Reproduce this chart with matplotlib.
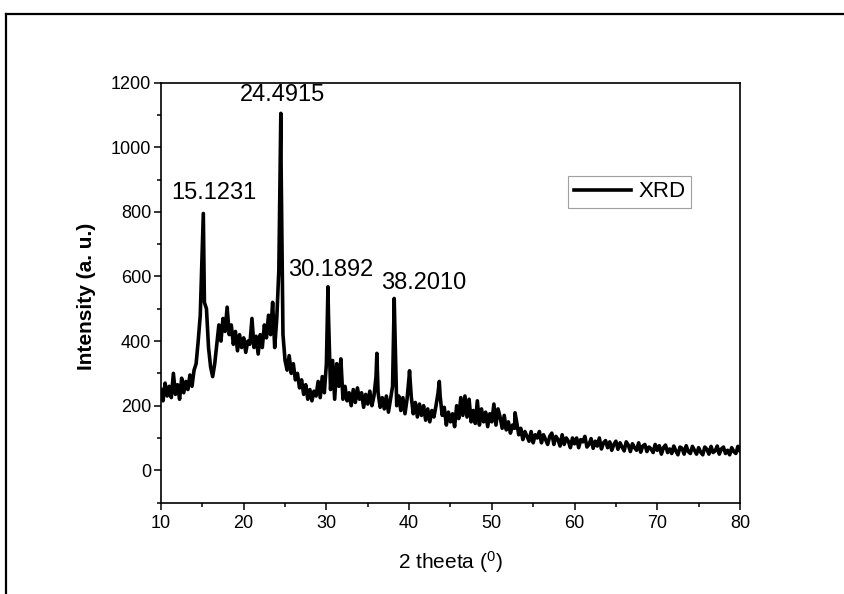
import numpy as np
import matplotlib
matplotlib.use('Agg')
from matplotlib import pyplot as plt
from matplotlib.lines import Line2D
from matplotlib.ticker import MultipleLocator

plt.rcParams['font.family'] = ['Liberation Sans', 'DejaVu Sans']
plt.rcParams['mathtext.fontset'] = 'custom'
plt.rcParams['mathtext.rm'] = 'Liberation Sans'

# scan grid: 10-80 deg, step 0.25 (intensities)
theta_start, theta_step = 10.0, 0.25

counts_10_20 = [250, 215, 270, 230, 260, 225, 300, 235, 265, 220,
                285, 240, 275, 250, 295, 260, 310, 330, 400, 480,
                700, 520, 500, 380, 320, 290, 330, 390, 450, 400,
                470, 430, 505, 420, 450, 390, 430, 370, 420, 380]
counts_20_30 = [410, 365, 400, 390, 470, 380, 415, 360, 420, 380,
                450, 410, 480, 420, 520, 380, 470, 620, 1000, 420,
                340, 310, 355, 300, 330, 280, 300, 255, 280, 235,
                265, 220, 250, 215, 245, 230, 275, 225, 290, 240]
counts_30_40 = [330, 480, 250, 340, 220, 330, 260, 345, 220, 260,
                215, 240, 200, 250, 210, 255, 220, 240, 195, 235,
                205, 245, 200, 230, 290, 240, 195, 225, 190, 230,
                180, 220, 260, 470, 200, 230, 185, 225, 175, 220]
counts_40_50 = [290, 230, 175, 210, 165, 205, 170, 200, 155, 190,
                150, 185, 165, 200, 240, 230, 170, 195, 140, 180,
                150, 175, 135, 200, 160, 225, 170, 230, 165, 220,
                150, 185, 145, 215, 140, 190, 150, 180, 135, 175]
counts_50_60 = [150, 205, 140, 190, 165, 130, 170, 125, 150, 115,
                140, 130, 150, 110, 130, 95, 120, 105, 90, 120,
                85, 110, 100, 120, 85, 110, 95, 80, 105, 115,
                80, 105, 95, 75, 110, 80, 100, 90, 70, 100]
counts_60_70 = [82, 100, 70, 95, 88, 105, 72, 80, 98, 68,
                90, 75, 100, 66, 85, 92, 70, 88, 62, 80,
                90, 65, 85, 72, 60, 88, 78, 58, 82, 70,
                62, 85, 56, 75, 80, 58, 72, 66, 55, 80]
counts_70_80 = [62, 76, 50, 70, 78, 55, 66, 52, 75, 60,
                48, 72, 68, 50, 76, 58, 52, 74, 62, 50,
                70, 56, 48, 72, 65, 50, 74, 55, 60, 75,
                50, 66, 72, 52, 62, 48, 70, 58, 52, 74,
                60]

# sharp reflections (apex points)
peak_theta = [15.12, 24.49, 30.19, 36.10, 38.20, 40.05, 43.65, 52.80]
peak_int = [795, 1105, 568, 362, 532, 308, 275, 178]

# labelled peaks
label_text = ['15.1231', '24.4915', '30.1892', '38.2010']
label_x = [16.45, 24.7, 30.5, 41.8]
label_y = [857, 1162, 620, 580]

counts = (counts_10_20 + counts_20_30 + counts_30_40 + counts_40_50
          + counts_50_60 + counts_60_70 + counts_70_80)
grid = theta_start + theta_step * np.arange(len(counts))
tt = np.concatenate([grid, peak_theta])
ii = np.concatenate([counts, peak_int])
order = np.argsort(tt)
tt, ii = tt[order], ii[order]

fig = plt.figure(figsize=(8.45, 5.94), dpi=100)
ax = fig.add_axes([0.1905, 0.1539, 0.6852, 0.7069])

ax.plot(tt, ii, color='black', lw=2.6, label='XRD')

for t, x, y in zip(label_text, label_x, label_y):
    ax.text(x, y, t, fontsize=17, ha='center', va='center')

ax.set_xlim(10, 80)
ax.set_ylim(-100, 1200)
ax.xaxis.set_major_locator(MultipleLocator(10))
ax.xaxis.set_minor_locator(MultipleLocator(5))
ax.yaxis.set_major_locator(MultipleLocator(200))
ax.yaxis.set_minor_locator(MultipleLocator(100))
ax.tick_params(which='both', direction='out', width=1.1, labelsize=13)
ax.tick_params(which='major', length=5)
ax.tick_params(which='minor', length=3)
ax.tick_params(axis='y', pad=2)
ax.tick_params(axis='x', pad=4)
for s in ax.spines.values():
    s.set_linewidth(1.2)

ax.set_xlabel('2 theeta ($\\mathregular{^0}$)', fontsize=15)
ax.set_ylabel('Intensity (a. u.)', fontsize=15, fontweight='bold')
ax.xaxis.set_label_coords(0.5, -0.11)
ax.yaxis.set_label_coords(-0.112, 0.49)

leg = ax.legend(loc='upper left', bbox_to_anchor=(0.703, 0.778), fontsize=16,
                frameon=True, fancybox=False, handlelength=2.6,
                handletextpad=0.3, borderpad=0.25, borderaxespad=0)
leg.get_frame().set_edgecolor('#888888')
leg.get_frame().set_linewidth(0.8)

# outer border of the picture (top and left edges)
fig.add_artist(Line2D([6 / 845, 1], [1 - 14 / 594, 1 - 14 / 594],
                      transform=fig.transFigure, color='black', lw=1.6))
fig.add_artist(Line2D([6 / 845, 6 / 845], [0, 1 - 14 / 594],
                      transform=fig.transFigure, color='black', lw=1.6))

fig.savefig('out.png', dpi=100)
